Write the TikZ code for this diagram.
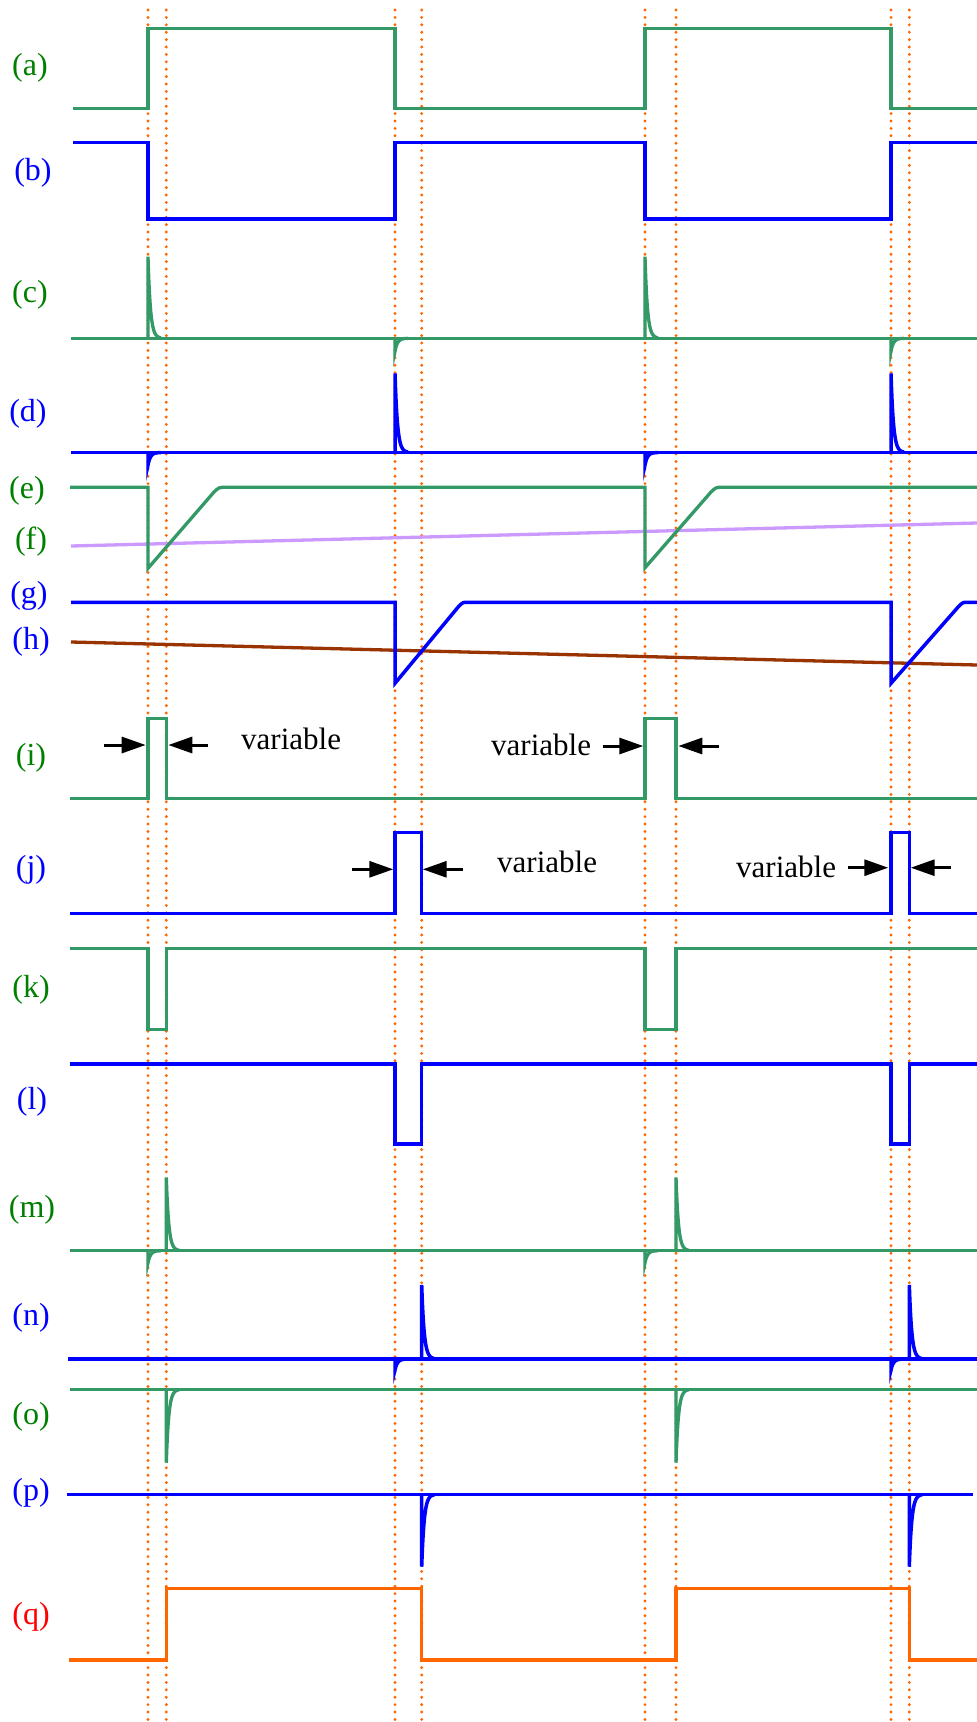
\documentclass[tikz,border=0pt]{standalone}
\usepackage{fontspec}
\setmainfont{Liberation Serif}
\usetikzlibrary{arrows.meta}
\definecolor{trgreen}{RGB}{51,153,102}
\definecolor{lbgreen}{RGB}{0,128,0}
\definecolor{trblue}{RGB}{0,0,255}
\definecolor{trpurple}{RGB}{204,153,255}
\definecolor{trbrown}{RGB}{153,51,0}
\definecolor{trorange}{RGB}{255,102,0}
\definecolor{lbred}{RGB}{255,0,0}
\newcommand{\spk}[4]{\draw[#4] (#1,#2) -- (#1,{#2-(#3)}) -- plot[domain=0:13,samples=40] ({#1+\x},{#2-(#3)*exp(-\x/2.5)});}
\begin{document}
\begin{tikzpicture}[x=1pt,y=-1pt,
  gtr/.style={draw=trgreen,line width=3.3pt,line join=miter},
  btr/.style={draw=trblue,line width=3.5pt,line join=miter},
  ptr/.style={draw=trpurple,line width=3.3pt},
  htr/.style={draw=trbrown,line width=3.3pt},
  otr/.style={draw=trorange,line width=3.3pt,line join=miter},
  guide/.style={draw=trorange,line width=3.2pt,line cap=round,dash pattern=on 0pt off 7.4pt},
  lab/.style={font=\fontsize{32}{38}\selectfont,inner sep=0pt},
  varlab/.style={font=\fontsize{31}{36}\selectfont,inner sep=0pt,anchor=base west},
  dimarrow/.style={line width=3pt,-{Triangle[length=24pt,width=16pt]}}]
\useasboundingbox[fill=white] (0,0) rectangle (977,1722);
% guide positions
\def\Xa{148}\def\Xb{166.3}\def\Xc{395}\def\Xd{421.7}
\def\Xe{645}\def\Xf{676}\def\Xg{891}\def\Xh{909.3}
% guides
\foreach \gx in {\Xa,\Xb,\Xc,\Xd,\Xe,\Xf,\Xg,\Xh}
  \draw[guide] (\gx,10) -- (\gx,1722);
% labels
\node[lab,text=lbgreen] (la) at (30,68) {(a)};
\node[lab,text=trblue] (lb) at (33,173) {(b)};
\node[lab,text=lbgreen] (lc) at (30,295) {(c)};
\node[lab,text=trblue] (ld) at (28,414) {(d)};
\node[lab,text=lbgreen] (le) at (27,491) {(e)};
\node[lab,text=lbgreen] (lf) at (31,542) {(f)};
\node[lab,text=trblue] (lg) at (29,596) {(g)};
\node[lab,text=trblue] (lh) at (31,642) {(h)};
\node[lab,text=lbgreen] (li) at (31,758) {(i)};
\node[lab,text=trblue] (lj) at (31,870) {(j)};
\node[lab,text=lbgreen] (lk) at (31,990) {(k)};
\node[lab,text=trblue] (ll) at (32,1102) {(l)};
\node[lab,text=lbgreen] (lm) at (32,1210) {(m)};
\node[lab,text=trblue] (ln) at (31,1318) {(n)};
\node[lab,text=lbgreen] (lo) at (31,1417) {(o)};
\node[lab,text=trblue] (lp) at (31,1493) {(p)};
\node[lab,text=lbred] (lq) at (31,1617) {(q)};
% (a)
\draw[gtr] (73,108.3) -- (\Xa,108.3) -- (\Xa,28.7) -- (\Xc,28.7) -- (\Xc,108.3) -- (\Xe,108.3) -- (\Xe,28.7) -- (\Xg,28.7) -- (\Xg,108.3) -- (977,108.3);
% (b)
\draw[btr] (73,142.3) -- (\Xa,142.3) -- (\Xa,219) -- (\Xc,219) -- (\Xc,142.3) -- (\Xe,142.3) -- (\Xe,219) -- (\Xg,219) -- (\Xg,142.3) -- (977,142.3);
% (c)
\draw[gtr] (71,338.3) -- (977,338.3);
\spk{\Xa}{338.3}{81.6}{gtr}
\spk{\Xe}{338.3}{81.6}{gtr}
\spk{\Xc}{338.3}{-13}{gtr}
\spk{\Xg}{338.3}{-13}{gtr}
% (d)
\draw[btr] (71,452.5) -- (977,452.5);
\spk{\Xa}{452.5}{-12.5}{btr}
\spk{\Xe}{452.5}{-12.5}{btr}
\spk{\Xc}{452.5}{79}{btr}
\spk{\Xg}{452.5}{79}{btr}
% (f) purple
\draw[ptr] (71,546) -- (977,523);
% (e)
\draw[gtr] (70,487.3) -- (\Xa,487.3) -- (\Xa,568.3) -- (214,492) .. controls (219,487.3) .. (226,487.3) -- (\Xe,487.3) -- (\Xe,567.7) -- (711,492) .. controls (716,487.3) .. (722,487.3) -- (977,487.3);
% (h) brown
\draw[htr] (71,642) -- (977,665);
% (g)
\draw[btr] (71,602.3) -- (\Xc,602.3) -- (\Xc,683.3) -- (459,606) .. controls (463,602.3) .. (467,602.3) -- (\Xg,602.3) -- (\Xg,683.3) -- (959,606) .. controls (963,602.3) .. (967,602.3) -- (977,602.3);
% (i)
\draw[gtr] (70,798.3) -- (\Xa,798.3) -- (\Xa,718.3) -- (\Xb,718.3) -- (\Xb,798.3) -- (\Xe,798.3) -- (\Xe,718.3) -- (\Xf,718.3) -- (\Xf,798.3) -- (977,798.3);
% (j)
\draw[btr] (70,913.3) -- (\Xc,913.3) -- (\Xc,832.7) -- (\Xd,832.7) -- (\Xd,913.3) -- (\Xg,913.3) -- (\Xg,832.7) -- (\Xh,832.7) -- (\Xh,913.3) -- (977,913.3);
% (k)
\draw[gtr] (70,948.3) -- (\Xa,948.3) -- (\Xa,1029.3) -- (\Xb,1029.3) -- (\Xb,948.3) -- (\Xe,948.3) -- (\Xe,1029.3) -- (\Xf,1029.3) -- (\Xf,948.3) -- (977,948.3);
% (l)
\draw[btr] (70,1064) -- (\Xc,1064) -- (\Xc,1144) -- (\Xd,1144) -- (\Xd,1064) -- (\Xg,1064) -- (\Xg,1144) -- (\Xh,1144) -- (\Xh,1064) -- (977,1064);
% (m)
\draw[gtr] (70,1250.7) -- (977,1250.7);
\spk{\Xa}{1250.7}{-12}{gtr}
\spk{\Xe}{1250.7}{-12}{gtr}
\spk{\Xb}{1250.7}{73.4}{gtr}
\spk{\Xf}{1250.7}{73.4}{gtr}
% (n)
\draw[btr] (68,1359) -- (977,1359);
\spk{\Xc}{1359}{-11}{btr}
\spk{\Xg}{1359}{-11}{btr}
\spk{\Xd}{1359}{74}{btr}
\spk{\Xh}{1359}{74}{btr}
% (o)
\draw[gtr] (70,1389.3) -- (977,1389.3);
\spk{\Xb}{1389.3}{-73.4}{gtr}
\spk{\Xf}{1389.3}{-73.4}{gtr}
% (p)
\draw[btr] (67,1494.3) -- (973,1494.3);
\spk{\Xd}{1494.3}{-72.4}{btr}
\spk{\Xh}{1494.3}{-72.4}{btr}
% (q)
\draw[otr] (69,1660) -- (\Xb,1660) -- (\Xb,1588.3) -- (\Xd,1588.3) -- (\Xd,1660) -- (\Xf,1660) -- (\Xf,1588.3) -- (\Xh,1588.3) -- (\Xh,1660) -- (977,1660);
% variable labels and arrows
\node[varlab] (v1) at (241,749) {variable};
\node[varlab] (v2) at (491,755) {variable};
\node[varlab] (v3) at (497,872.7) {variable};
\node[varlab] (v4) at (736,877.3) {variable};
\coordinate (a1s) at (104,745);   \coordinate (a1e) at (145.7,745);
\coordinate (a2s) at (207.7,745); \coordinate (a2e) at (168.3,745);
\coordinate (a3s) at (602.7,746); \coordinate (a3e) at (643.3,746);
\coordinate (a4s) at (719,746);   \coordinate (a4e) at (678.3,746);
\coordinate (a5s) at (352.3,869.3); \coordinate (a5e) at (393.3,869.3);
\coordinate (a6s) at (462.7,869.3); \coordinate (a6e) at (422.7,869.3);
\coordinate (a7s) at (848.3,867.7); \coordinate (a7e) at (888.3,867.7);
\coordinate (a8s) at (951,867.7);   \coordinate (a8e) at (910.7,867.7);
\foreach \k in {1,...,8}
  \draw[dimarrow] (a\k s) -- (a\k e);
\end{tikzpicture}
\end{document}
